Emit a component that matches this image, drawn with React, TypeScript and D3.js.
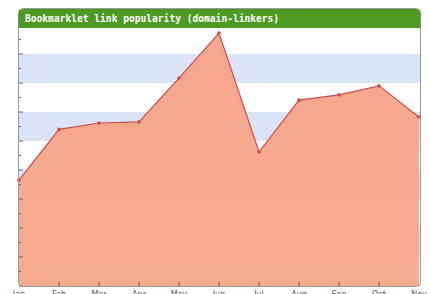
import { useEffect, useRef } from "react";
import * as d3 from "d3";

const months = ["Jan", "Feb", "Mar", "Apr", "May", "Jun", "Jul", "Aug", "Sep", "Oct", "Nov"];
const linkers = [36.5, 54, 56.2, 56.6, 71.7, 87.2, 46.2, 64.1, 65.9, 69, 58.3];
const yTicks = [0, 10, 20, 30, 40, 50, 60, 70, 80, 90];
const title = "Bookmarklet link popularity (domain-linkers)";

export default function App() {
  const ref = useRef<SVGSVGElement>(null);

  useEffect(() => {
    draw();
    // eslint-disable-next-line
  }, []);

  function draw() {
    const width = 429;
    const height = 294;
    const left = 19;
    const right = 420;
    const top = 25;
    const bottom = 286;

    const svg = d3.select(ref.current);
    svg.selectAll("*").remove();

    const x = d3.scalePoint<string>().domain(months).range([left, right - 1]);
    const y = d3.scaleLinear().domain([0, 90]).range([bottom, top]);

    // alternating bands
    for (let i = 0; i < yTicks.length - 1; i++) {
      svg.append("rect")
        .attr("x", left)
        .attr("y", y(yTicks[i + 1]))
        .attr("width", right - left)
        .attr("height", y(yTicks[i]) - y(yTicks[i + 1]))
        .attr("fill", i % 2 === 0 ? "#ffffff" : "#dbe3f6");
    }

    const area = d3.area<number>()
      .x((_, i) => x(months[i])!)
      .y0(bottom)
      .y1(d => y(d));

    const line = d3.line<number>()
      .x((_, i) => x(months[i])!)
      .y(d => y(d));

    const grad = svg.append("defs").append("linearGradient")
      .attr("id", "fillGrad")
      .attr("x1", 0).attr("y1", 0).attr("x2", 0).attr("y2", 1);
    grad.append("stop").attr("offset", "0%").attr("stop-color", "#f4a68e");
    grad.append("stop").attr("offset", "100%").attr("stop-color", "#f6ac8f");

    svg.append("path")
      .attr("d", area(linkers)!)
      .attr("fill", "url(#fillGrad)");

    svg.append("path")
      .attr("d", line(linkers)!)
      .attr("fill", "none")
      .attr("stroke", "#c8504a")
      .attr("stroke-width", 1.2);

    svg.selectAll("circle.pt")
      .data(linkers)
      .enter()
      .append("circle")
      .attr("class", "pt")
      .attr("cx", (_, i) => x(months[i])!)
      .attr("cy", d => y(d))
      .attr("r", 1.8)
      .attr("fill", "#c8504a");

    // left axis ticks (major + minor)
    const minor = d3.range(0, 90, 5);
    svg.selectAll("line.yt")
      .data(minor)
      .enter()
      .append("line")
      .attr("x1", left)
      .attr("x2", d => (d % 10 === 0 ? left + 4 : left + 2))
      .attr("y1", d => y(d))
      .attr("y2", d => y(d))
      .attr("stroke", "#666")
      .attr("stroke-width", 1);

    // bottom ticks
    svg.selectAll("line.xt")
      .data(months.slice(1, -1))
      .enter()
      .append("line")
      .attr("x1", d => x(d)!)
      .attr("x2", d => x(d)!)
      .attr("y1", bottom)
      .attr("y2", bottom - 4)
      .attr("stroke", "#555");

    // frame
    svg.append("rect")
      .attr("x", left - 0.5)
      .attr("y", 8.5)
      .attr("width", right - left + 1)
      .attr("height", bottom - 8)
      .attr("rx", 4)
      .attr("fill", "none")
      .attr("stroke", "#999");

    // header
    const hTop = 9;
    const hBot = 28;
    const r = 5;
    svg.append("path")
      .attr("d", `M${left - 0.5},${hBot} V${hTop + r} Q${left - 0.5},${hTop} ${left + r},${hTop} H${right - r} Q${right + 0.5},${hTop} ${right + 0.5},${hTop + r} V${hBot} Z`)
      .attr("fill", "#4d9a22");

    svg.append("text")
      .attr("x", left + 6)
      .attr("y", 22)
      .attr("fill", "#ffffff")
      .attr("font-family", "DejaVu Sans Mono, monospace")
      .attr("font-size", 9.6)
      .attr("font-weight", "bold")
      .text(title);

    // month labels (cut off by the bottom edge, as in the original)
    svg.selectAll("text.xl")
      .data(months)
      .enter()
      .append("text")
      .attr("class", "xl")
      .attr("x", d => x(d)!)
      .attr("y", 297)
      .attr("text-anchor", "middle")
      .attr("font-family", "DejaVu Sans, sans-serif")
      .attr("font-size", 8)
      .attr("fill", "#555")
      .text(d => d);

    svg.attr("width", width).attr("height", height);
  }

  return (
    <svg ref={ref} width={429} height={294}
      style={{ position: "absolute", left: 0, top: 0, background: "#fff" }} />
  );
}
